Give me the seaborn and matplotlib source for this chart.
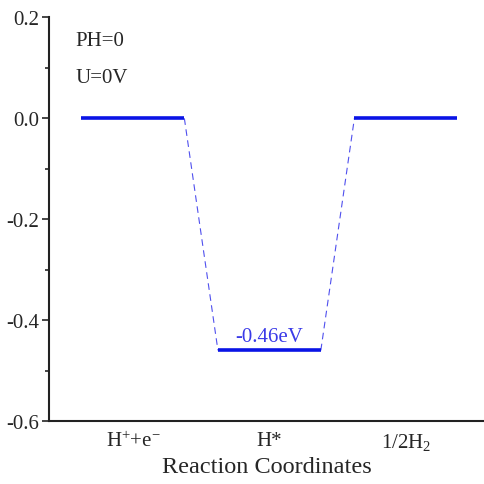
import matplotlib
matplotlib.use("Agg")
import matplotlib.pyplot as plt
import seaborn as sns
import pandas as pd
import numpy as np
from matplotlib.ticker import MultipleLocator

sns.set_style("ticks")
plt.rcParams['font.family'] = ['Liberation Serif', 'DejaVu Serif']
plt.rcParams['mathtext.fontset'] = 'custom'
plt.rcParams['mathtext.rm'] = 'Liberation Serif'
plt.rcParams['mathtext.it'] = 'Liberation Serif:italic'
plt.rcParams['axes.unicode_minus'] = False

categories = ["H$^{+}$+e$^{\\mathrm{-}}$", "H*", "1/2H$_{2}$"]
energies = [0.0, -0.46, 0.0]
step_label = "-0.46eV"
notes = ["PH=0", "U=0V"]

half = 0.377
rows = []
for i, e in enumerate(energies):
    rows.append({"x": i - half, "y": e, "seg": i})
    rows.append({"x": i + half, "y": e, "seg": i})
df = pd.DataFrame(rows)

conn = []
for i in range(len(energies) - 1):
    conn.append({"x": i + half, "y": energies[i], "seg": i})
    conn.append({"x": i + 1 - half, "y": energies[i + 1], "seg": i})
dfc = pd.DataFrame(conn)

fig, ax = plt.subplots(figsize=(4.85, 4.85), dpi=100)
fig.subplots_adjust(left=0.101, right=1.0, top=0.962, bottom=0.13)

sns.lineplot(data=dfc, x="x", y="y", units="seg", estimator=None, ax=ax,
             color="#5050ee", lw=0.8, linestyle=(0, (6, 4)), legend=False)
sns.lineplot(data=df, x="x", y="y", units="seg", estimator=None, ax=ax,
             color="#0a14e6", lw=2.6, legend=False, solid_capstyle="butt")

ax.set_xlim(-0.615, 2.58)
ax.set_ylim(-0.6, 0.2)
ax.yaxis.set_major_locator(MultipleLocator(0.2))
ax.yaxis.set_minor_locator(MultipleLocator(0.1))
ax.set_yticks([-0.6, -0.4, -0.2, 0.0, 0.2])
ax.set_yticklabels(["-0.6", "-0.4", "-0.2", "0.0", "0.2"])
ax.set_xticks(range(len(categories)))
ax.set_xticklabels(categories)
ax.tick_params(axis='x', length=0, labelsize=15, pad=7)
ax.tick_params(axis='y', which='major', length=5, width=1.2, labelsize=15, direction='out', pad=2)
ax.tick_params(axis='y', which='minor', length=3, width=1.2, direction='out')
ax.set_xlabel("Reaction Coordinates", fontsize=17.5, labelpad=3)
ax.set_ylabel("")
for s in ["top", "right"]:
    ax.spines[s].set_visible(False)
for s in ["left", "bottom"]:
    ax.spines[s].set_linewidth(1.5)
    ax.spines[s].set_color("#222222")

ax.text(-0.42, 0.155, notes[0], fontsize=15, va="center", ha="left")
ax.text(-0.42, 0.081, notes[1], fontsize=15, va="center", ha="left")
ax.text(1, energies[1] + 0.008, step_label, fontsize=15, color="#3a3ae8", ha="center", va="bottom")

fig.savefig("out.png", dpi=100)
